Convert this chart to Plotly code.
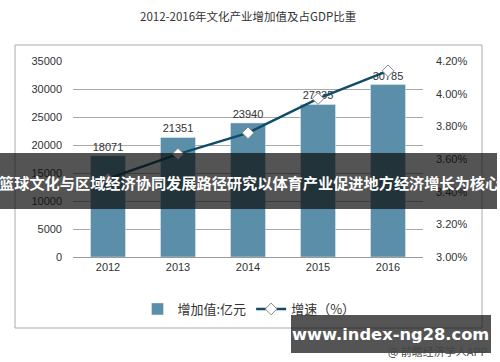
import plotly.graph_objects as go

years = ["2012", "2013", "2014", "2015", "2016"]
value_added = [18071, 21351, 23940, 27235, 30785]
gdp_share = [3.48, 3.63, 3.76, 3.97, 4.14]

W, H = 500, 362
L, R, T, B = 73, 423, 61, 257


def px(x):
    return (x - L) / (R - L)


def py(y):
    return (B - y) / (B - T)


FONT = "Liberation Sans, Arial, sans-serif"
CJK = "Noto Sans CJK SC, sans-serif"

fig = go.Figure()
fig.add_trace(go.Bar(
    x=years, y=value_added, name="增加值:亿元",
    marker=dict(color="#5b8fa9"),
    text=[str(v) for v in value_added], textposition="outside",
    textfont=dict(size=11, color="#333333", family=FONT),
    cliponaxis=False,
))
fig.add_trace(go.Scatter(
    x=years, y=gdp_share, name="增速（%）", yaxis="y2",
    mode="lines+markers",
    line=dict(color="#0f4d66", width=2.5),
    marker=dict(symbol="diamond", size=9, color="white",
                line=dict(color="#888888", width=1)),
))

shapes = [
    dict(type="rect", xref="paper", yref="paper",
         x0=px(15), x1=px(482), y0=py(45), y1=py(328),
         line=dict(color="#aaaaaa", width=1), fillcolor="rgba(0,0,0,0)", layer="below"),
    dict(type="rect", xref="paper", yref="paper",
         x0=px(0), x1=px(497), y0=py(153), y1=py(209),
         line=dict(width=0), fillcolor="rgba(12,12,12,0.7)", layer="above"),
    dict(type="rect", xref="paper", yref="paper",
         x0=px(291), x1=px(491), y0=py(315), y1=py(353),
         line=dict(width=0), fillcolor="rgba(12,12,12,0.7)", layer="above"),
]

annotations = [
    dict(text="2012-2016年文化产业增加值及占GDP比重", xref="paper", yref="paper",
         x=px(248), y=py(16), xanchor="center", yanchor="middle", showarrow=False,
         font=dict(size=11.5, color="#333333", family=CJK)),
    dict(text="<b>篮球文化与区域经济协同发展路径研究以体育产业促进地方经济增长为核心</b>",
         xref="paper", yref="paper", x=px(249), y=py(182), xanchor="center", yanchor="middle",
         showarrow=False,
         font=dict(size=15.2, color="white", family=CJK)),
    dict(text="<b>www.index-ng28.com</b>", xref="paper", yref="paper",
         x=px(390), y=py(334), xanchor="center", yanchor="middle", showarrow=False,
         font=dict(size=16.3, color="white", family="DejaVu Sans, sans-serif")),
    dict(text="@ 前瞻经济学人APP", xref="paper", yref="paper",
         x=px(490), y=py(351), xanchor="right", yanchor="middle", showarrow=False,
         font=dict(size=11, color="#444444", family=CJK)),
]

fig.update_layout(
    width=W, height=H,
    margin=dict(l=L, r=W - R, t=T, b=H - B, autoexpand=False),
    paper_bgcolor="white", plot_bgcolor="white",
    bargap=0.5,
    showlegend=True,
    legend=dict(orientation="h", x=px(249), xanchor="center", y=py(309), yanchor="middle",
                font=dict(size=13, color="#333333", family=CJK),
                itemwidth=30, bgcolor="rgba(0,0,0,0)"),
    xaxis=dict(showline=True, linecolor="#999999", linewidth=1,
               tickfont=dict(size=11, color="#333333", family=FONT),
               ticks="", showgrid=False, automargin=False),
    yaxis=dict(range=[0, 35000], dtick=5000, tickformat="d",
               showgrid=True, gridcolor="#a8a8a8", gridwidth=1,
               zeroline=False, ticks="", ticklabelstandoff=10, automargin=False,
               tickfont=dict(size=11, color="#333333", family=FONT)),
    yaxis2=dict(range=[3.0, 4.2], dtick=0.2, tickformat=".2f", ticksuffix="%",
                overlaying="y", side="right", showgrid=False, zeroline=False,
                ticks="", ticklabelstandoff=12, automargin=False,
                tickfont=dict(size=11, color="#333333", family=FONT)),
    shapes=shapes, annotations=annotations,
)

fig.write_html("out.html", config={"displayModeBar": False})

with open("out.html", "r", encoding="utf-8") as f:
    html = f.read()
html = html.replace("<body>", '<body style="margin:0;padding:0;">', 1)
with open("out.html", "w", encoding="utf-8") as f:
    f.write(html)
